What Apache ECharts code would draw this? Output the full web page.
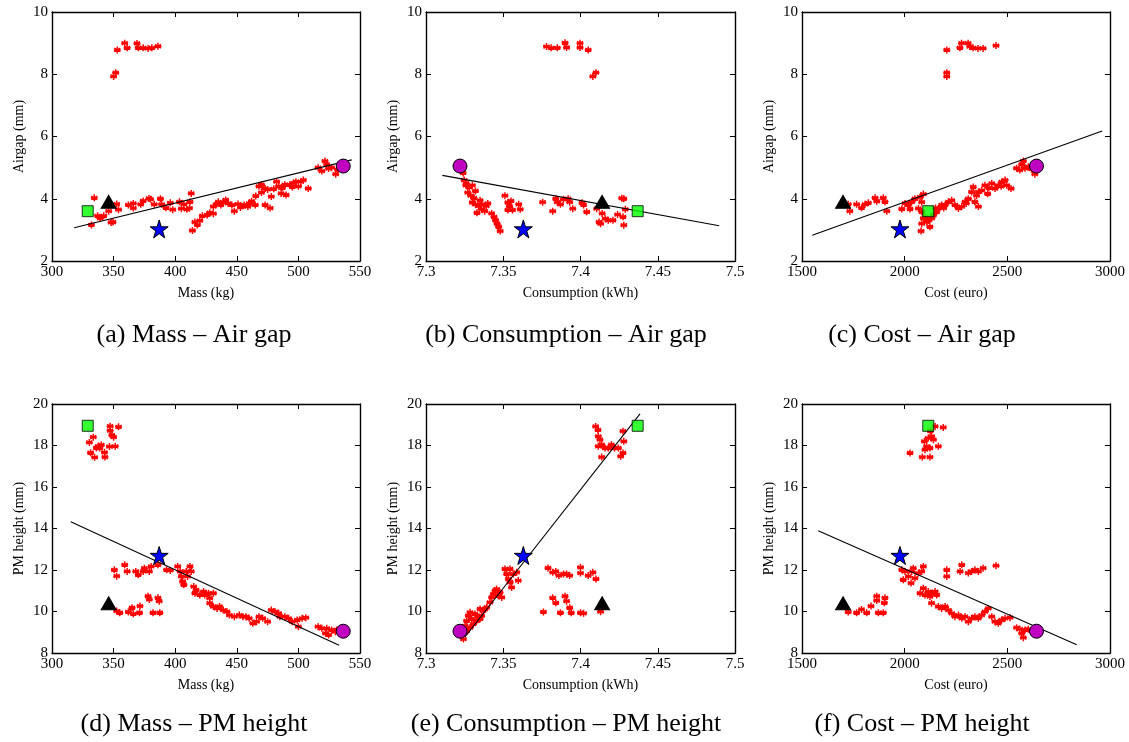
<!DOCTYPE html>
<html>
<head>
<meta charset="utf-8">
<script src="https://cdn.jsdelivr.net/npm/echarts@6/dist/echarts.min.js"></script>
<style>
html,body{margin:0;padding:0;background:#fff;}
#chart{width:1129px;height:742px;}
</style>
</head>
<body>
<div id="chart"></div>
<script>
// ---------------- DATA ----------------
// Highlighted designs: [mass, consumption, cost, airgap, pmHeight]
const squareDesign   = [329, 7.437, 2115, 3.6, 18.95];
const triangleDesign = [346, 7.414, 1700, 3.9, 10.4];
const starDesign     = [387, 7.363, 1977, 3.03, 12.7];
const circleDesign   = [536.4, 7.322, 2642, 5.05, 9.05];

const massAirgap = [
 [350,7.93],[351.7,8.05],[353,8.78],[359,9.0],[361,8.85],[369,8.99],[370,8.85],[374,8.85],[378,8.83],[381,8.85],[386,8.9],
 [332,3.16],[334.3,4.03],[337,3.45],[339,3.37],[342,3.45],[346,3.6],[348,3.24],[349.5,3.25],[352.5,3.83],[354,3.65],[362,3.8],[366,3.85],[366,3.7],[372,3.82],[374,3.93],[378.7,4.01],[380,3.98],[383,3.82],[388,4.0],[389,3.82],[392.5,3.71],[396,3.87],[398,3.65],[403.5,3.9],[405,3.68],[407,3.82],[409.5,3.66],[412,3.9],[413,4.17],[411.6,3.7],
 [414,2.98],[416,3.25],[418,3.16],[420,3.3],[422,3.45],[426,3.48],[428,3.55],[431,3.52],[431,3.75],[433.7,3.83],[437,3.8],[439,3.88],[441,3.96],[446,3.8],[448,3.6],[451,3.83],[456,3.8],[459,3.75],[462,3.92],[465,3.8],[465.4,4.09],[468,4.4],[470,4.45],[473,4.33],[473,3.8],[477,3.7],[478,4.07],[480,4.32],[482.3,4.55],[484,4.4],[486,4.17],[490,4.12],[489,4.45],[493,4.45],[496,4.5],[500,4.4],[502,4.55],[504,4.6],[508,4.33],
 [435,3.9],[443,3.85],[453,3.72],[460,3.85],[470,4.2],[475,4.3],[487,4.35],[495,4.38],[498,4.55],
 [516,5.0],[519,4.89],[521.6,5.21],[524.5,4.97],[527,5.0],[530.3,4.79],[531.8,4.93],[523,5.1]
];
const consAirgap = [
 [7.378,8.89],[7.381,8.85],[7.385,8.85],[7.39,9.01],[7.391,8.86],[7.3997,9.0],[7.3997,8.86],[7.405,8.78],[7.408,7.93],[7.41,8.05],
 [7.3231,5.14],[7.3235,4.93],[7.324,4.83],[7.3247,4.6],[7.3258,4.43],[7.328,4.37],[7.330,4.43],[7.327,4.2],[7.329,4.1],[7.331,4.03],[7.330,3.88],[7.332,3.82],[7.334,3.76],[7.336,3.82],[7.339,3.76],[7.333,3.55],[7.336,3.66],[7.3425,3.53],[7.344,3.42],[7.345,3.31],[7.346,3.2],[7.348,2.96],[7.347,3.1],
 [7.326,4.5],[7.332,4.25],[7.335,3.95],[7.338,3.6],[7.34,3.85],
 [7.3511,4.1],[7.353,3.88],[7.354,3.77],[7.353,3.64],[7.356,3.64],[7.36,3.82],[7.361,3.66],[7.355,3.93],
 [7.3755,3.89],[7.382,3.6],[7.384,4.0],[7.385,3.89],[7.387,3.82],[7.389,3.98],[7.392,4.0],[7.393,3.89],[7.395,3.68],[7.401,3.87],[7.402,3.8],[7.404,3.58],[7.4105,3.68],[7.412,3.25],[7.413,3.2],[7.414,3.53],[7.416,3.36],[7.418,3.31],[7.421,3.31],[7.424,3.49],[7.4267,4.02],[7.428,4.0],[7.4275,3.42],[7.429,3.66],[7.428,3.15]
];
const costAirgap = [
 [2205,8.78],[2205,8.05],[2205,7.93],[2269,8.85],[2277,9.0],[2309,9.0],[2317,8.89],[2333,8.85],[2357,8.83],[2382,8.83],[2445,8.92],
 [1725,3.82],[1733,3.6],[1766,3.82],[1790,3.71],[1807,3.82],[1823,3.87],[1856,4.03],[1864,3.92],[1896,4.03],[1904,3.9],[1913,3.6],
 [1986,3.67],[2002,3.85],[2018,3.8],[2034,3.9],[2050,4.0],[2075,4.05],[2091,4.15],[2083,3.89],[2026,3.67],[2067,3.69],[2083,3.58],[2091,3.37],[2083,3.2],[2080,2.96],[2107,3.25],[2123,3.1],[2132,3.37],[2140,3.47],[2156,3.58],[2164,3.69],[2180,3.8],[2197,3.8],[2213,3.9],[2229,3.95],[2245,3.8],[2262,3.69],[2278,3.75],[2294,3.9],[2310,4.0],[2326,4.22],[2334,4.38],[2342,3.9],[2359,3.75],[2359,4.22],[2375,4.27],[2391,4.43],[2404,4.16],[2424,4.49],[2440,4.33],[2456,4.43],[2473,4.54],[2489,4.6],[2497,4.43],[2518,4.33],
 [2100,3.4],[2115,3.3],[2150,3.7],[2190,3.7],[2300,3.85],[2350,4.1],[2410,4.35],[2470,4.4],
 [2545,4.98],[2561,4.92],[2578,5.21],[2586,4.98],[2602,5.03],[2618,4.95],[2634,4.79],[2570,5.1]
];
const massPm = [
 [330.3,18.15],[333.5,18.4],[331.3,17.65],[334.6,17.43],[336,17.88],[337.4,17.96],[338.7,17.88],[340,18.03],[342.6,17.67],[347.2,18.93],[347.2,18.72],[348.6,18.5],[350,18.4],[351.3,17.96],[354,18.9],[343,17.44],[346.6,17.95],
 [350.6,12.01],[352.5,11.7],[359,12.25],[361,11.93],[368,11.93],[370,11.77],[374,11.93],[375,12.09],[379,11.93],[380.5,12.17],[386,12.25],[393,12.01],[396,11.98],
 [352.5,10.02],[355,9.94],[362,9.98],[365,10.18],[366,9.89],[371,9.94],[371.4,10.26],[378,10.74],[379,10.58],[382,9.94],[386,10.66],[387,10.5],[387.5,9.94],
 [402,12.17],[404,11.93],[405,11.69],[406,11.45],[407,11.29],[409,11.93],[412,12.17],[413,11.93],[410,11.69],[415,11.2],[416,10.88],[417,11.04],[420,10.8],[423,10.96],[424,10.8],[427,10.88],[428,10.64],[431,10.88],[428,10.4],[431,10.24],[434,10.15],[436,10.24],[439,10.07],[442,9.99],[444,9.83],[448,9.75],[452,9.83],[455,9.75],[457.5,9.75],[460,9.67],[463,9.43],[466,9.51],[468,9.75],[471,9.67],[475,9.51],[478,10.07],[481,9.99],[484,9.91],[485,9.75],[489,9.75],[492,9.67],[495,9.51],[499,9.59],[500,9.27],[503,9.67],[506,9.7],
 [516,9.27],[519,9.19],[522,8.95],[524.5,8.87],[523,9.19],[527,9.11],[530,9.03],[531,9.11],[532.5,9.03]
];
const consPm = [
 [7.4098,18.92],[7.4115,18.44],[7.4126,18.28],[7.4115,17.96],[7.4137,18.04],[7.4159,17.88],[7.4137,17.44],[7.418,17.88],[7.42,18.04],[7.422,17.88],[7.4245,17.88],[7.426,17.48],[7.4275,17.64],[7.428,18.2],[7.4275,18.69],[7.4113,18.75],
 [7.3242,8.67],[7.3253,8.99],[7.3253,9.31],[7.3263,9.55],[7.3274,9.8],[7.3285,9.96],[7.3296,9.64],[7.3306,9.39],[7.3317,9.88],[7.3328,9.55],[7.3339,9.72],[7.335,9.64],[7.336,9.8],[7.337,10.04],[7.3382,10.12],[7.3393,10.2],[7.3414,10.44],[7.3425,10.68],[7.3436,10.84],[7.3447,11.0],[7.3457,11.08],[7.3468,10.76],[7.3479,10.92],[7.349,10.68],[7.3511,12.05],[7.3522,11.81],[7.3533,11.57],[7.3544,11.41],[7.3554,11.16],[7.3544,12.05],[7.3565,11.81],[7.3587,11.89],[7.3597,11.49],[7.335,10.12],[7.3285,9.23],[7.3263,9.07],
 [7.379,12.1],[7.382,11.89],[7.384,11.93],[7.386,11.73],[7.389,11.81],[7.391,11.81],[7.393,11.73],[7.4,12.13],[7.4,11.85],[7.405,11.73],[7.408,11.89],[7.41,11.57],
 [7.376,9.98],[7.382,10.66],[7.384,10.42],[7.387,9.94],[7.390,10.74],[7.391,10.5],[7.393,10.18],[7.394,9.94],[7.4,9.94],[7.402,9.91],[7.413,9.99]
];
const costPm = [
 [2026,17.64],[2086,17.44],[2099,17.8],[2096,18.2],[2107,17.96],[2115,18.36],[2123,17.44],[2131,18.44],[2140,18.28],[2123,17.88],[2164,17.96],[2148,18.92],[2188,18.87],[2125,18.7],
 [1986,12.01],[2002,11.93],[1993,11.53],[2018,11.69],[2034,11.93],[2042,12.09],[2031,11.37],[2050,11.61],[2067,11.85],[2091,12.17],[2083,11.93],[2075,10.88],[2091,11.12],[2099,10.8],[2115,10.96],[2131,10.88],[2148,10.96],[2123,10.72],[2156,10.8],[2131,10.4],[2164,10.24],[2180,10.15],[2197,10.24],[2213,10.07],[2229,9.91],[2245,9.75],[2262,9.83],[2278,9.67],[2294,9.75],[2310,9.51],[2326,9.67],[2342,9.75],[2359,9.67],[2375,9.83],[2391,9.99],[2407,10.15],[2424,9.75],[2440,9.51],[2456,9.43],[2472,9.59],[2489,9.67],[2513,9.7],[2545,9.22],[2561,9.15],[2578,8.74],[2586,9.11],[2602,9.15],[2570,8.95],
 [2205,12.01],[2205,11.69],[2270,11.93],[2278,12.25],[2310,11.85],[2326,11.93],[2342,12.01],[2359,11.93],[2382,12.09],[2445,12.21],
 [1725,9.98],[1766,9.94],[1790,10.1],[1815,9.94],[1836,10.26],[1864,10.74],[1864,10.53],[1872,9.94],[1896,9.94],[1904,10.66],[1901,10.42]
];

// Fitted trend lines (end points)
const trendMassAirgap = [[318,3.07],[543.3,5.25]];
const trendConsAirgap = [[7.3106,4.75],[7.4898,3.13]];
const trendCostAirgap = [[1550,2.83],[2962,6.18]];
const trendMassPm     = [[315.2,14.33],[533,8.37]];
const trendConsPm     = [[7.3252,8.77],[7.4385,19.52]];
const trendCostPm     = [[1579,13.89],[2838,8.40]];

const massTicks = [300, 550, 50];
const consTicks = [7.3, 7.5, 0.05];
const costTicks = [1500, 3000, 500];
const airgapTicks = [2, 10, 2];
const pmTicks = [8, 20, 2];

const xNames = ['Mass (kg)', 'Consumption (kWh)', 'Cost (euro)'];
const yNames = ['Airgap (mm)', 'PM height (mm)'];
const captions = ['(a) Mass – Air gap', '(b) Consumption – Air gap', '(c) Cost – Air gap',
                  '(d) Mass – PM height', '(e) Consumption – PM height', '(f) Cost – PM height'];

// ---------------- BUILD ----------------
const FONT = 'Liberation Serif';
const panels = [
  {pts: massAirgap, trend: trendMassAirgap, xk: 0, yk: 3, xt: massTicks, yt: airgapTicks, xn: 0, yn: 0},
  {pts: consAirgap, trend: trendConsAirgap, xk: 1, yk: 3, xt: consTicks, yt: airgapTicks, xn: 1, yn: 0},
  {pts: costAirgap, trend: trendCostAirgap, xk: 2, yk: 3, xt: costTicks, yt: airgapTicks, xn: 2, yn: 0},
  {pts: massPm, trend: trendMassPm, xk: 0, yk: 4, xt: massTicks, yt: pmTicks, xn: 0, yn: 1},
  {pts: consPm, trend: trendConsPm, xk: 1, yk: 4, xt: consTicks, yt: pmTicks, xn: 1, yn: 1},
  {pts: costPm, trend: trendCostPm, xk: 2, yk: 4, xt: costTicks, yt: pmTicks, xn: 2, yn: 1}
];
const gridLefts = [52, 426, 802];
const gridWidths = [308, 309, 308];
const gridTops = [12, 404];
const captionX = [194, 566, 922];
const captionY = [335, 724];

const fmt = v => String(+(+v).toFixed(3));
const grid = [], xAxis = [], yAxis = [], series = [], graphic = [];
const lineStyle = {color: '#000', width: 1.4};
const tick = {show: true, inside: true, length: 5, lineStyle: {color: '#000', width: 1}};

const asterisk = 'path://M10,0L10,20M1.34,5L18.66,15M1.34,15L18.66,5M0,10L20,10';
const starPath = 'path://M0,-1L0.2245,-0.309L0.951,-0.309L0.363,0.118L0.588,0.809L0,0.382L-0.588,0.809L-0.363,0.118L-0.951,-0.309L-0.2245,-0.309Z';

panels.forEach((p, i) => {
  const col = i % 3, row = Math.floor(i / 3);
  grid.push({left: gridLefts[col], top: gridTops[row], width: gridWidths[col], height: 249, containLabel: false});
  const xb = {
    type: 'value', gridIndex: i, position: 'bottom', min: p.xt[0], max: p.xt[1], interval: p.xt[2],
    axisLine: {onZero: false, lineStyle}, axisTick: tick, splitLine: {show: false},
    axisLabel: {color: '#000', fontFamily: FONT, fontSize: 15, margin: 4, formatter: fmt, showMinLabel: true, showMaxLabel: true},
    name: xNames[p.xn], nameLocation: 'middle', nameGap: 25,
    nameTextStyle: {color: '#000', fontFamily: FONT, fontSize: 14}
  };
  const xt = {
    type: 'value', gridIndex: i, position: 'top', min: p.xt[0], max: p.xt[1], interval: p.xt[2],
    axisLine: {onZero: false, lineStyle}, axisTick: tick, splitLine: {show: false}, axisLabel: {show: false}
  };
  const yl = {
    type: 'value', gridIndex: i, position: 'left', min: p.yt[0], max: p.yt[1], interval: p.yt[2],
    axisLine: {onZero: false, lineStyle}, axisTick: tick, splitLine: {show: false},
    axisLabel: {color: '#000', fontFamily: FONT, fontSize: 15, margin: 4, showMinLabel: true, showMaxLabel: true},
    name: yNames[p.yn], nameLocation: 'middle', nameGap: 26, nameRotate: 90,
    nameTextStyle: {color: '#000', fontFamily: FONT, fontSize: 14}
  };
  const yr = {
    type: 'value', gridIndex: i, position: 'right', min: p.yt[0], max: p.yt[1], interval: p.yt[2],
    axisLine: {onZero: false, lineStyle}, axisTick: tick, splitLine: {show: false}, axisLabel: {show: false}
  };
  xAxis.push(xb, xt);
  yAxis.push(yl, yr);
  const xi = 2 * i, yi = 2 * i;

  series.push({
    type: 'scatter', xAxisIndex: xi, yAxisIndex: yi, data: p.pts, symbol: asterisk, symbolSize: 7,
    itemStyle: {color: '#ff0000', borderColor: '#ff0000', borderWidth: 1.5, opacity: 1},
    silent: true, z: 2
  });
  series.push({
    type: 'line', xAxisIndex: xi, yAxisIndex: yi, data: p.trend, showSymbol: false, symbol: 'none',
    lineStyle: {color: '#000', width: 1.1}, silent: true, z: 3
  });
  const pick = d => [[d[p.xk], d[p.yk]]];
  series.push({type: 'scatter', xAxisIndex: xi, yAxisIndex: yi, data: pick(squareDesign), symbol: 'rect', symbolSize: 11,
    itemStyle: {color: '#00ff00', borderColor: '#000', borderWidth: 1}, z: 5, silent: true});
  series.push({type: 'scatter', xAxisIndex: xi, yAxisIndex: yi, data: pick(triangleDesign), symbol: 'triangle', symbolSize: [15, 13],
    itemStyle: {color: '#000', borderColor: '#000', borderWidth: 1, opacity: 1}, z: 5, silent: true});
  series.push({type: 'scatter', xAxisIndex: xi, yAxisIndex: yi, data: pick(starDesign), symbol: starPath, symbolSize: 18,
    itemStyle: {color: '#0000ff', borderColor: '#000', borderWidth: 1, opacity: 1}, z: 5, silent: true});
  series.push({type: 'scatter', xAxisIndex: xi, yAxisIndex: yi, data: pick(circleDesign), symbol: 'circle', symbolSize: 14,
    itemStyle: {color: '#c000c0', borderColor: '#000', borderWidth: 1, opacity: 1}, z: 5, silent: true});

  graphic.push({
    type: 'text', x: captionX[col], y: captionY[row],
    style: {text: captions[i], font: '26px "' + FONT + '"', fill: '#000',
            textAlign: 'center', align: 'center', textVerticalAlign: 'middle', verticalAlign: 'middle'}
  });
});

const chart = echarts.init(document.getElementById('chart'), null, {renderer: 'canvas'});
chart.setOption({
  animation: false,
  backgroundColor: '#fff',
  grid, xAxis, yAxis, series, graphic
});
</script>
</body>
</html>
